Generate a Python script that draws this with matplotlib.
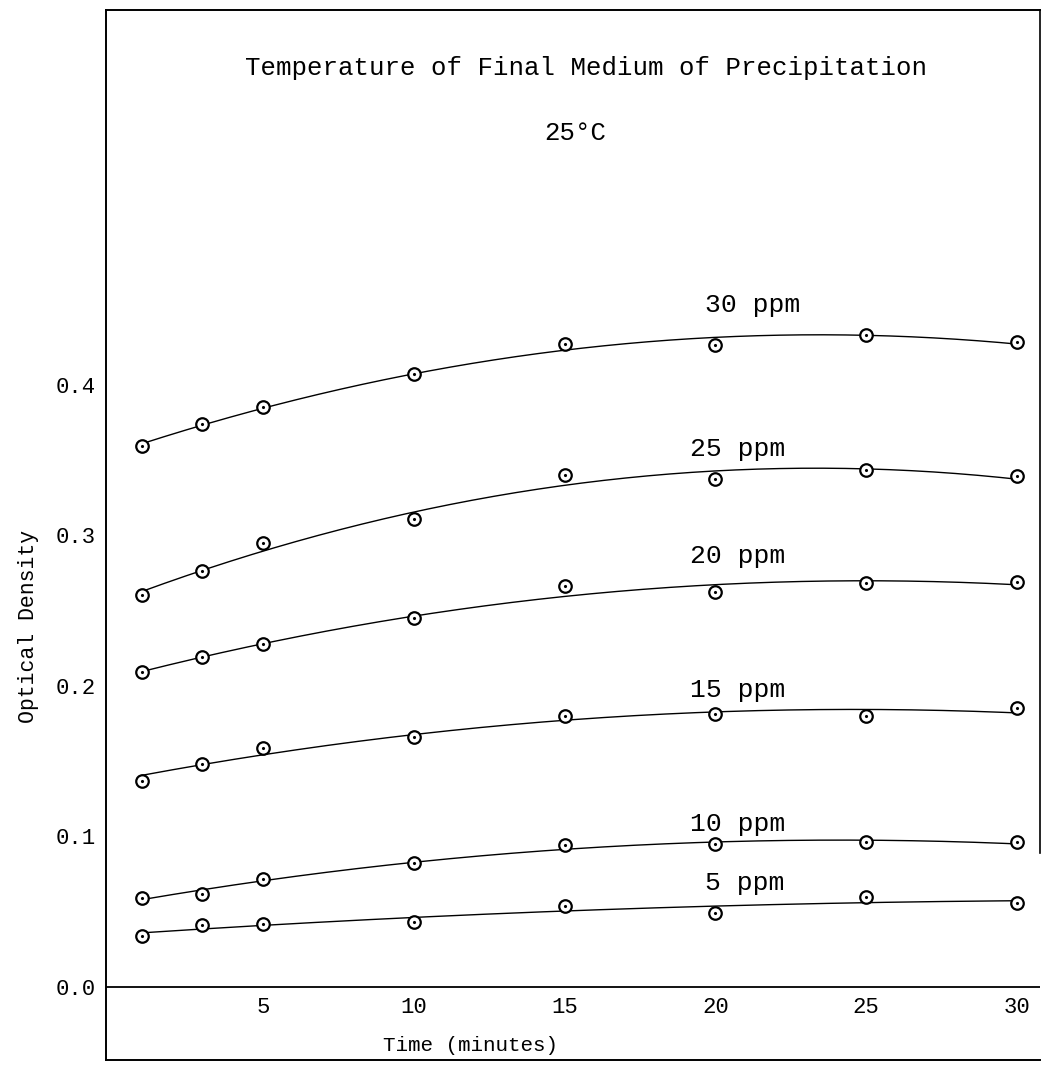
import numpy as np
import matplotlib.pyplot as plt
from matplotlib.transforms import offset_copy

plt.rcParams['font.family'] = ['Liberation Mono', 'DejaVu Sans Mono']

# readings off the original sheet (time in minutes, optical density)
times = [1, 3, 5, 10, 15, 20, 25, 30]
od_30ppm = [0.359, 0.374, 0.385, 0.407, 0.427, 0.426, 0.433, 0.428]
od_25ppm = [0.260, 0.276, 0.295, 0.311, 0.340, 0.337, 0.343, 0.339]
od_20ppm = [0.209, 0.219, 0.228, 0.245, 0.266, 0.262, 0.268, 0.269]
od_15ppm = [0.137, 0.148, 0.159, 0.166, 0.180, 0.181, 0.180, 0.185]
od_10ppm = [0.059, 0.062, 0.072, 0.082, 0.094, 0.095, 0.096, 0.096]
od_5ppm = [0.034, 0.041, 0.042, 0.043, 0.054, 0.049, 0.060, 0.056]

series_names = ["30 ppm", "25 ppm", "20 ppm", "15 ppm", "10 ppm", "5 ppm"]
series_vals = [od_30ppm, od_25ppm, od_20ppm, od_15ppm, od_10ppm, od_5ppm]

x_ticks = [5, 10, 15, 20, 25, 30]
y_ticks = [0.0, 0.1, 0.2, 0.3, 0.4]

# where the typed curve names sit (right edge x, centre y)
label_xy = [(22.8, 0.453), (22.3, 0.357), (22.3, 0.286),
            (22.3, 0.197), (22.3, 0.108), (22.3, 0.069)]

fig = plt.figure(figsize=(10.47, 10.66), dpi=100)
ax = fig.add_axes([0.1012, 0.0056, 0.8921, 0.985])
ax.set_xlim(-0.2, 30.76)
ax.set_ylim(-0.0485, 0.6487)

tt = np.linspace(times[0], times[-1], 200)
for name, vals, (lx, ly) in zip(series_names, series_vals, label_xy):
    # smooth curve drawn through the points, like the hand-faired lines
    coef = np.polyfit(times, vals, 2)
    ax.plot(tt, np.polyval(coef, tt), color='black', lw=1.0, zorder=2)
    ax.plot(times, vals, 'o', ms=9, mfc='white', mec='black', mew=1.6, zorder=3)
    ax.plot(times, vals, '.', ms=2.5, color='black', zorder=4)
    ax.text(lx, ly, name, ha='right', va='center', fontsize=19)

# zero line and frame
ax.axhline(0, color='black', lw=1.3)
for side in ['left', 'top', 'bottom']:
    ax.spines[side].set_linewidth(1.4)
ax.spines['right'].set_visible(False)
ax.plot([1, 1], [0.197, 1], transform=ax.transAxes, color='black', lw=1.2, clip_on=False)

ax.set_xticks([])
ax.set_yticks(y_ticks)
ax.set_yticklabels([f"{v:.1f}" for v in y_ticks], fontsize=16)
ax.tick_params(axis='y', length=0, pad=7)

below = offset_copy(ax.transData, fig=fig, y=-15, units='points')
for t in x_ticks:
    ax.text(t, 0, str(t), transform=below, ha='center', va='center', fontsize=16)

lower = offset_copy(ax.transData, fig=fig, y=-42, units='points')
ax.text(11.9, 0, "Time (minutes)", transform=lower, ha='center', va='center', fontsize=15)

fig.text(0.027, 0.412, "Optical Density", rotation=90, ha='center', va='center', fontsize=15.5)
fig.text(0.56, 0.936, "Temperature of Final Medium of Precipitation", ha='center', va='center', fontsize=18.5)
fig.text(0.549, 0.875, "25°C", ha='center', va='center', fontsize=18.5)

fig.savefig("out.png", dpi=100)
